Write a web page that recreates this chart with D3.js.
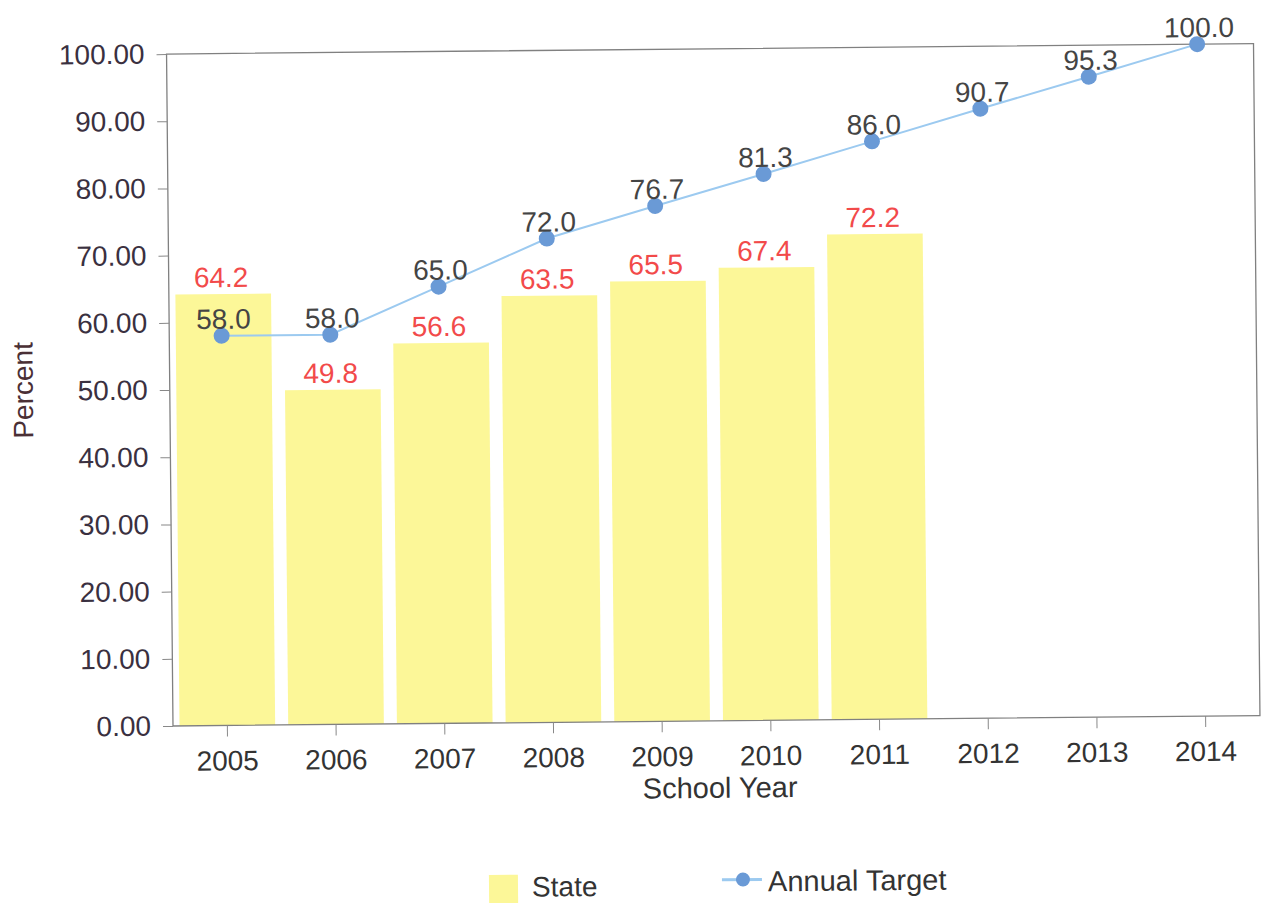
<!DOCTYPE html>
<html>
<head>
<meta charset="utf-8">
<script src="https://cdn.jsdelivr.net/npm/d3@7"></script>
<style>
  body { margin: 0; background: #fff; }
  svg text { font-family: "Liberation Sans", Arial, sans-serif; }
</style>
</head>
<body>
<div id="chart"></div>
<script>
const years = ['2005','2006','2007','2008','2009','2010','2011','2012','2013','2014']
const stateYears = ['2005','2006','2007','2008','2009','2010','2011']
const stateValues = [64.2, 49.8, 56.6, 63.5, 65.5, 67.4, 72.2]
const targetValues = [58.0, 58.0, 65.0, 72.0, 76.7, 81.3, 86.0, 90.7, 95.3, 100.0]
const yTicks = [0,10,20,30,40,50,60,70,80,90,100]

const size = { width: 1262, height: 903 }
const plot = { left: 173, top: 54, width: 1087, height: 672 }
const fontSize = 28

const svg = d3.select('#chart').append('svg')
  .attr('width', size.width)
  .attr('height', size.height)

// the scan is tilted a little, so turn the whole chart with it
const g = svg.append('g')
  .attr('transform', `rotate(-0.55, ${plot.left}, ${plot.top + plot.height})`)

const x = d3.scaleBand().domain(years)
  .range([plot.left, plot.left + plot.width])
  .paddingInner(0.12).paddingOuter(0.06)

const y = d3.scaleLinear().domain([0, 100])
  .range([plot.top + plot.height, plot.top])

// bars
g.selectAll('.bar')
  .data(stateYears)
  .enter()
  .append('rect')
  .attr('class','bar')
  .attr('x', d => x(d))
  .attr('width', x.bandwidth())
  .attr('y', (d,i) => y(stateValues[i]))
  .attr('height', (d,i) => y(0) - y(stateValues[i]))
  .attr('fill', '#fcf798')

// frame
g.append('rect')
  .attr('x', plot.left).attr('y', plot.top)
  .attr('width', plot.width).attr('height', plot.height)
  .attr('fill', 'none').attr('stroke', '#808080').attr('stroke-width', 1.3)

// y axis
const yAxis = g.append('g')
  .attr('transform', `translate(${plot.left},0)`)
  .call(d3.axisLeft(y).tickValues(yTicks).tickFormat(d3.format('.2f')).tickSize(10).tickPadding(12))
yAxis.select('.domain').remove()
yAxis.selectAll('line').attr('stroke', '#888')
yAxis.selectAll('text').attr('font-size', fontSize).attr('fill', '#3a3040')

// x axis
const xAxis = g.append('g')
  .attr('transform', `translate(0,${plot.top + plot.height})`)
  .call(d3.axisBottom(x).tickSize(11).tickPadding(14))
xAxis.select('.domain').remove()
xAxis.selectAll('line').attr('stroke', '#888')
xAxis.selectAll('text').attr('font-size', fontSize).attr('fill', '#333')

// axis titles
g.append('text')
  .attr('x', plot.left + plot.width / 2 + 3)
  .attr('y', plot.top + plot.height + 77)
  .attr('text-anchor', 'middle')
  .attr('font-size', 29).attr('fill', '#333')
  .text('School Year')

g.append('text')
  .attr('transform', 'translate(36,389) rotate(-90)')
  .attr('text-anchor', 'middle')
  .attr('font-size', fontSize).attr('fill', '#4a2f35')
  .text('Percent')

// bar labels
g.selectAll('.bar-label')
  .data(stateYears)
  .enter()
  .append('text')
  .attr('class','bar-label')
  .attr('x', d => x(d) + x.bandwidth() / 2 - 2)
  .attr('y', (d,i) => y(stateValues[i]) - 7)
  .attr('text-anchor', 'middle')
  .attr('font-size', fontSize).attr('fill', '#f24a4a')
  .text((d,i) => stateValues[i].toFixed(1))

// target line
const cx = d => x(d) + x.bandwidth() / 2 - 2
const line = d3.line()
  .x((d,i) => cx(years[i]))
  .y(d => y(d))

g.append('path')
  .datum(targetValues)
  .attr('d', line)
  .attr('fill', 'none')
  .attr('stroke', '#9ccaf0')
  .attr('stroke-width', 2)

g.selectAll('.pt')
  .data(targetValues)
  .enter()
  .append('circle')
  .attr('class','pt')
  .attr('cx', (d,i) => cx(years[i]))
  .attr('cy', d => y(d))
  .attr('r', 8)
  .attr('fill', '#6a9ad6')

g.selectAll('.pt-label')
  .data(targetValues)
  .enter()
  .append('text')
  .attr('class','pt-label')
  .attr('x', (d,i) => cx(years[i]) + 2)
  .attr('y', d => y(d) - 7)
  .attr('text-anchor', 'middle')
  .attr('font-size', fontSize).attr('fill', '#444')
  .text(d => d.toFixed(1))

// legend
const legend = svg.append('g').attr('transform', 'rotate(-0.55, 700, 885)')
legend.append('rect')
  .attr('x', 489).attr('y', 873)
  .attr('width', 29).attr('height', 30)
  .attr('fill', '#fcf798')
legend.append('text')
  .attr('x', 532).attr('y', 895)
  .attr('font-size', fontSize).attr('fill', '#333')
  .text('State')
legend.append('line')
  .attr('x1', 722).attr('x2', 762).attr('y1', 880).attr('y2', 880)
  .attr('stroke', '#9ccaf0').attr('stroke-width', 3)
legend.append('circle')
  .attr('cx', 743).attr('cy', 880).attr('r', 7)
  .attr('fill', '#6a9ad6')
legend.append('text')
  .attr('x', 768).attr('y', 892)
  .attr('font-size', 29).attr('fill', '#333')
  .text('Annual Target')
</script>
</body>
</html>
